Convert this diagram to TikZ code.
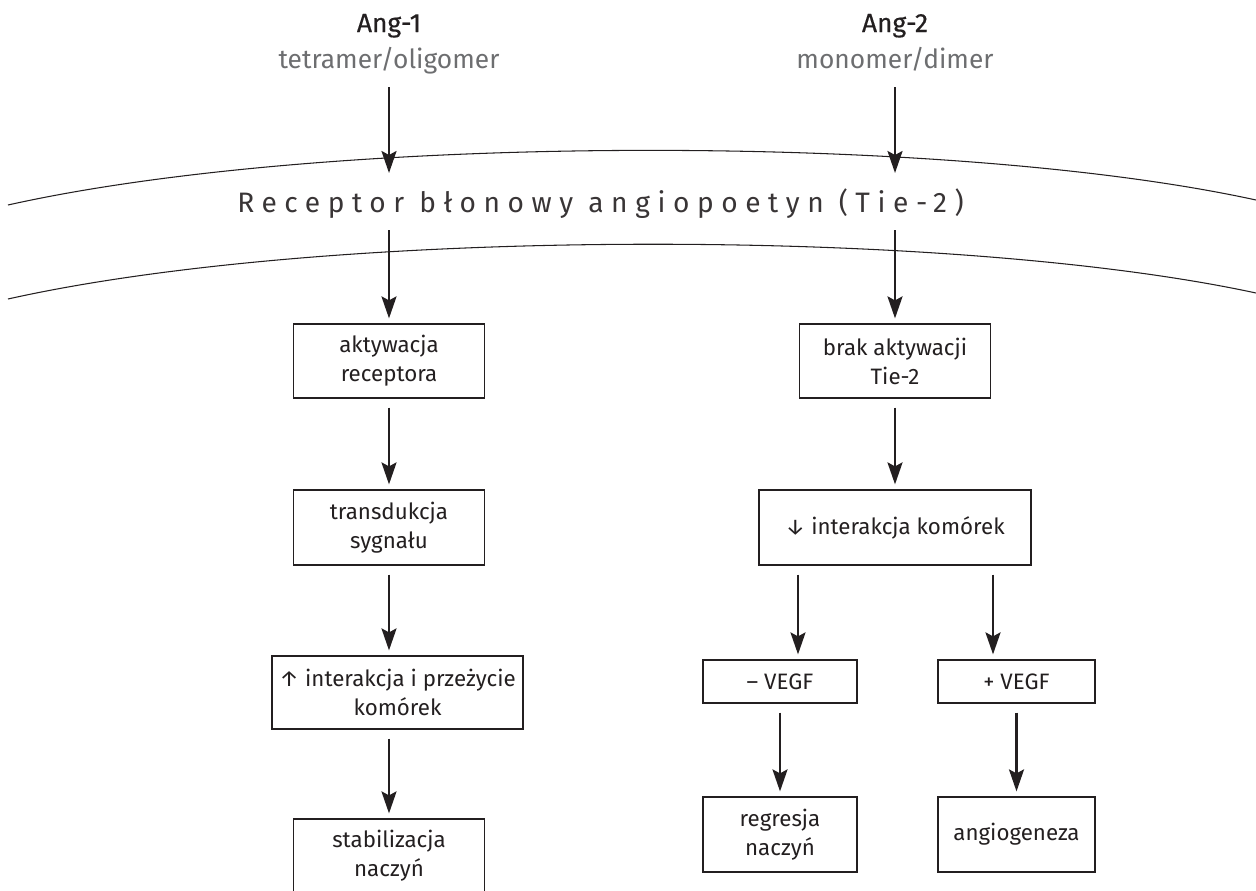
\documentclass[tikz,border=0pt]{standalone}
\usepackage{fontspec}
\setmainfont{Fira Sans}
\usetikzlibrary{arrows.meta}
\definecolor{ink}{HTML}{231F20}
\definecolor{inkgray}{HTML}{6D6E70}
\tikzset{
  arr/.style={ink, line width=1.4pt, -{Stealth[length=0.44cm,width=0.3cm,inset=0.08cm]}, shorten <=0.18cm, shorten >=0.1cm},
  box/.style={draw=ink, line width=0.7pt, align=center, inner sep=0pt, text=ink, font=\fontsize{12.7}{16.5}\selectfont},
  title/.style={anchor=base, inner sep=0pt, text=ink, font=\fontsize{15}{18}\selectfont\addfontfeature{FakeBold=0.4}},
  subtitle/.style={anchor=base, inner sep=0pt, text=inkgray, font=\fontsize{15}{18}\selectfont},
  membrane/.style={ink, line width=0.6pt}
}

\begin{document}
\begin{tikzpicture}[x=0.02cm, y=-0.02cm]
\useasboundingbox (0,0) rectangle (1256,890);

\node[title] (ang1) at (389,32) {Ang-1};
\node[subtitle] (olig) at (389,68) {tetramer/oligomer};
\node[title] (ang2) at (895,32) {Ang-2};
\node[subtitle] (dim) at (895,68) {monomer/dimer};

\draw[membrane] (8,205) .. controls (330,133) and (950,133) .. (1256,200);
\draw[membrane] (8,299) .. controls (330,227) and (950,227) .. (1256,293);
\node[anchor=base west, inner sep=0pt, text=ink!90, font=\fontsize{16}{19}\selectfont\addfontfeature{LetterSpace=27}] (tie) at (237,212) {Receptor błonowy angiopoetyn (Tie-2)};

\node[box, minimum width=3.82cm, minimum height=1.48cm] (akt) at (389,361) {aktywacja\\receptora};
\node[box, minimum width=3.82cm, minimum height=1.5cm] (trans) at (389,527.5) {transdukcja\\sygnału};
\node[box, minimum width=5.02cm, minimum height=1.46cm] (przez) at (397.5,692.5) {↑ interakcja i przeżycie\\komórek};
\node[box, minimum width=3.82cm, minimum height=1.48cm] (stab) at (389,856) {stabilizacja\\naczyń};

\node[box, minimum width=3.82cm, minimum height=1.48cm] (brak) at (895,361) {brak aktywacji\\Tie-2};
\node[box, minimum width=5.44cm, minimum height=1.5cm] (intk) at (895,527.5) {↓ interakcja komórek};
\node[box, minimum width=3.08cm, minimum height=0.86cm] (mvegf) at (780,681.5) {– VEGF};
\node[box, minimum width=3.14cm, minimum height=0.86cm] (pvegf) at (1016.5,681.5) {+ VEGF};
\node[box, minimum width=3.08cm, minimum height=1.5cm] (regr) at (780,834.5) {regresja\\naczyń};
\node[box, minimum width=3.14cm, minimum height=1.5cm] (angi) at (1016.5,834.5) {angiogeneza};

\coordinate (in1) at (389,78);
\coordinate (hit1) at (389,178);
\coordinate (out1) at (389,221);
\coordinate (in2) at (895,78);
\coordinate (hit2) at (895,178);
\coordinate (out2) at (895,221);

\draw[arr] (in1) -- (hit1);
\draw[arr] (out1) -- (akt);
\draw[arr] (akt) -- (trans);
\draw[arr] (trans) -- (trans |- przez.north);
\draw[arr] (przez.south -| stab) -- (stab);

\draw[arr] (in2) -- (hit2);
\draw[arr] (out2) -- (brak);
\draw[arr] (brak) -- (intk);
\draw[arr] ([xshift=0.36cm]mvegf.north |- intk.south) -- ([xshift=0.36cm]mvegf.north);
\draw[arr] ([xshift=-0.47cm]pvegf.north |- intk.south) -- ([xshift=-0.47cm]pvegf.north);
\draw[arr] (mvegf) -- (regr);
\draw[arr] (pvegf) -- (angi);
\end{tikzpicture}
\end{document}
